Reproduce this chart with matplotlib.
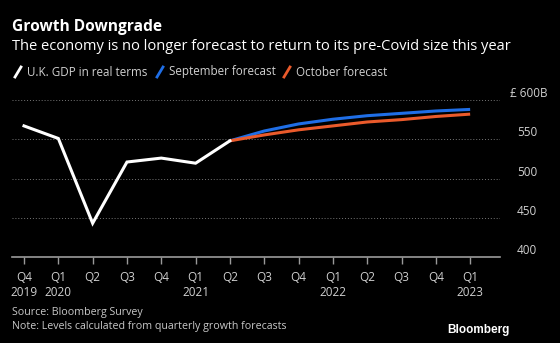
import numpy as np
import matplotlib.pyplot as plt
import matplotlib as mpl

# Quarterly GDP levels, billions of pounds
quarters = ["Q4", "Q1", "Q2", "Q3", "Q4", "Q1", "Q2", "Q3", "Q4", "Q1", "Q2", "Q3", "Q4", "Q1"]
years = ["2019", "2020", "", "", "", "2021", "", "", "", "2022", "", "", "", "2023"]

gdp = [567, 551, 443, 521, 526, 519.5, 548]
september = [548, 560.5, 569.5, 575.5, 580, 583, 586, 588]
october = [548, 555.5, 562, 567, 572, 575, 579, 582]

yticks = [400, 450, 500, 550, 600]

BG = "black"
FG = "white"
GREY = "#9a9a9a"
BLUE = "#1f6ee6"
ORANGE = "#ea5a2b"

mpl.rc("font", family="Open Sans")

fig = plt.figure(figsize=(5.6, 3.43), dpi=100, facecolor=BG)
ax = fig.add_axes([12/560, 1 - 257/343, 488/560, 157/343])
ax.set_facecolor(BG)

x_hist = np.arange(len(gdp))
x_fc = np.arange(len(gdp) - 1, len(gdp) - 1 + len(september))

ax.plot(x_fc, september, color=BLUE, lw=2.2, solid_capstyle="butt", zorder=3)
ax.plot(x_fc, october, color=ORANGE, lw=2.2, solid_capstyle="butt", zorder=4)
ax.plot(x_hist, gdp, color=FG, lw=2.2, solid_joinstyle="miter", zorder=5)

ax.set_xlim(-0.35, 13.87)
ax.set_ylim(400, 600)

for s in ["top", "right", "left"]:
    ax.spines[s].set_visible(False)
ax.spines["bottom"].set_color(GREY)
ax.spines["bottom"].set_linewidth(1.2)

for v in yticks[1:]:
    ax.axhline(v, color="#777777", lw=0.7, ls=(0, (1, 2)), zorder=1)

ax.set_yticks([])
ax.set_xticks(range(len(quarters)))
ax.set_xticklabels([q + "\n" + y for q, y in zip(quarters, years)],
                   color="#d0d0d0", fontsize=8.5, linespacing=1.2)
ax.tick_params(axis="x", colors=GREY, length=5, width=1, pad=5, labelcolor="#d0d0d0")

# y labels on the right, sitting above their gridlines
mixed = mpl.transforms.blended_transform_factory(fig.transFigure, ax.transData)
for v in yticks:
    lab = "£ %dB" % v if v == 600 else str(v)
    xt = 510/560 if v == 600 else 517/560
    ax.text(xt, v, lab, transform=mixed, color="#d0d0d0", fontsize=8.5,
            ha="left", va="bottom")

# titles
fig.text(12/560, 1 - 27/343, "Growth Downgrade", color=FG, fontsize=11.2,
         fontweight="bold", va="center")
fig.text(12/560, 1 - 46/343, "The economy is no longer forecast to return to its pre-Covid size this year",
         color=FG, fontsize=10.5, va="center")

# legend with slash markers
legend = [("U.K. GDP in real terms", FG, 15), ("September forecast", BLUE, 157),
          ("October forecast", ORANGE, 284)]
for label, col, x0 in legend:
    fig.add_artist(mpl.lines.Line2D([x0/560, (x0 + 6)/560], [1 - 77/343, 1 - 67/343],
                                    color=col, lw=2, transform=fig.transFigure))
    fig.text((x0 + 12)/560, 1 - 72/343, label, color="#d0d0d0", fontsize=8.4, va="center")

fig.text(12/560, 1 - 313/343, "Source: Bloomberg Survey", color="#c8c8c8", fontsize=7.7, va="center")
fig.text(12/560, 1 - 327/343, "Note: Levels calculated from quarterly growth forecasts",
         color="#c8c8c8", fontsize=7.7, va="center")
fig.text(510/560, 1 - 330/343, "Bloomberg", color=FG, fontsize=8.5, fontweight="bold",
         ha="right", va="center", family="Liberation Sans")

fig.savefig("out.png", dpi=100, facecolor=BG)
